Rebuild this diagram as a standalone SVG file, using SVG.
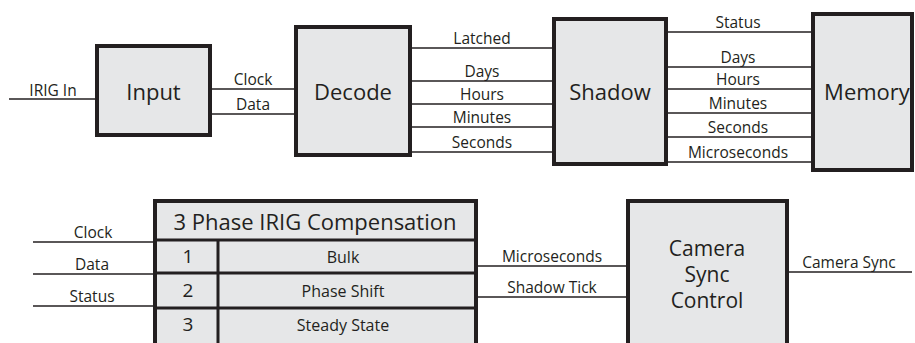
<svg xmlns="http://www.w3.org/2000/svg" width="915" height="343" viewBox="0 0 915 343">
<style>
.box{fill:#e6e7e8;stroke:#231f20;stroke-width:4}
.grid{stroke:#231f20;stroke-width:3;fill:none}
.wire{stroke:#231f20;stroke-width:1.6;fill:none}
text{font-family:"Open Sans","Liberation Sans",sans-serif;fill:#231f20;text-anchor:middle}
.big{font-size:22px}
.cam{font-size:21px}
.num{font-size:19px}
.lbl{font-size:15.5px}
.cell{font-size:16px}
</style>
<rect width="915" height="343" fill="#ffffff"/>
<g id="connectors">
<line class="wire" x1="9" y1="99" x2="95" y2="99"/>
<line class="wire" x1="212" y1="89" x2="294" y2="89"/>
<line class="wire" x1="212" y1="114" x2="294" y2="114"/>
<line class="wire" x1="412" y1="48" x2="552" y2="48"/>
<line class="wire" x1="412" y1="81" x2="552" y2="81"/>
<line class="wire" x1="412" y1="104" x2="552" y2="104"/>
<line class="wire" x1="412" y1="127" x2="552" y2="127"/>
<line class="wire" x1="412" y1="152" x2="552" y2="152"/>
<line class="wire" x1="668" y1="32" x2="811" y2="32"/>
<line class="wire" x1="668" y1="67" x2="811" y2="67"/>
<line class="wire" x1="668" y1="89" x2="811" y2="89"/>
<line class="wire" x1="668" y1="113" x2="811" y2="113"/>
<line class="wire" x1="668" y1="137" x2="811" y2="137"/>
<line class="wire" x1="668" y1="162" x2="811" y2="162"/>
<line class="wire" x1="33" y1="242" x2="153" y2="242"/>
<line class="wire" x1="33" y1="274" x2="153" y2="274"/>
<line class="wire" x1="33" y1="306" x2="153" y2="306"/>
<line class="wire" x1="478" y1="266" x2="626" y2="266"/>
<line class="wire" x1="478" y1="297" x2="626" y2="297"/>
<line class="wire" x1="789" y1="272" x2="912" y2="272"/>
<text class="lbl" x="53" y="96">IRIG In</text>
<text class="lbl" x="253" y="85">Clock</text>
<text class="lbl" x="253" y="110">Data</text>
<text class="lbl" x="482" y="44">Latched</text>
<text class="lbl" x="482" y="77">Days</text>
<text class="lbl" x="482" y="100">Hours</text>
<text class="lbl" x="482" y="123">Minutes</text>
<text class="lbl" x="482" y="148">Seconds</text>
<text class="lbl" x="738" y="28">Status</text>
<text class="lbl" x="738" y="63">Days</text>
<text class="lbl" x="738" y="85">Hours</text>
<text class="lbl" x="738" y="109">Minutes</text>
<text class="lbl" x="738" y="133">Seconds</text>
<text class="lbl" x="738" y="158">Microseconds</text>
<text class="lbl" x="93" y="238">Clock</text>
<text class="lbl" x="92" y="270">Data</text>
<text class="lbl" x="92" y="302">Status</text>
<text class="lbl" x="552" y="262">Microseconds</text>
<text class="lbl" x="552" y="293">Shadow Tick</text>
<text class="lbl" x="849" y="268">Camera Sync</text>
</g>
<g id="input">
<rect class="box" x="97" y="46" width="113" height="89"/>
<text class="big" x="153.5" y="100">Input</text>
</g>
<g id="decode">
<rect class="box" x="296" y="27" width="114" height="128"/>
<text class="big" x="353" y="100">Decode</text>
</g>
<g id="shadow">
<rect class="box" x="554" y="19" width="112" height="145"/>
<text class="big" x="610" y="100">Shadow</text>
</g>
<g id="memory">
<rect class="box" x="813" y="14" width="99" height="156"/>
<text class="big" x="867" y="100">Memory</text>
</g>
<g id="compensation">
<rect class="box" x="155" y="201" width="321" height="160"/>
<line class="grid" x1="155" y1="240" x2="476" y2="240"/>
<line class="grid" x1="155" y1="273" x2="476" y2="273"/>
<line class="grid" x1="155" y1="308" x2="476" y2="308"/>
<line class="grid" x1="218" y1="240" x2="218" y2="343"/>
<text class="big" x="315" y="230">3 Phase IRIG Compensation</text>
<text class="num" x="188" y="263">1</text>
<text class="num" x="188" y="297">2</text>
<text class="num" x="188" y="331">3</text>
<text class="cell" x="343" y="263">Bulk</text>
<text class="cell" x="343" y="297">Phase Shift</text>
<text class="cell" x="343" y="331">Steady State</text>
</g>
<g id="camera-sync-control">
<rect class="box" x="628" y="201" width="159" height="160"/>
<text class="cam" x="707" y="256">Camera</text>
<text class="cam" x="707" y="282">Sync</text>
<text class="cam" x="707" y="308">Control</text>
</g>
</svg>
